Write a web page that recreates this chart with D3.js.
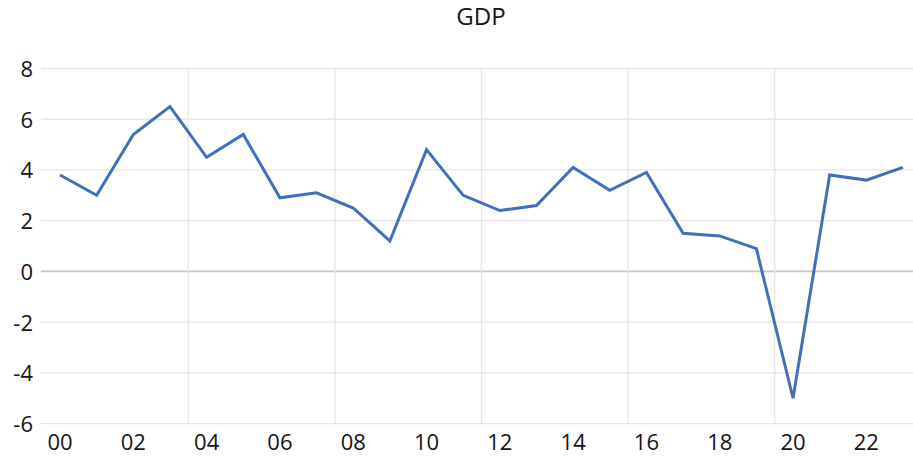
<!DOCTYPE html>
<html>
<head>
<meta charset="utf-8">
<script src="https://cdn.jsdelivr.net/npm/d3@7"></script>
<style>
  html, body { margin: 0; padding: 0; background: #fff; }
  svg { display: block; }
</style>
</head>
<body>
<svg id="chart" width="913" height="458"></svg>
<script>
// Annual GDP growth, 2000–2023 (%)
const years = d3.range(2000, 2024);
const gdp = [3.8, 3.0, 5.4, 6.5, 4.5, 5.4, 2.9, 3.1, 2.5, 1.2, 4.8, 3.0,
             2.4, 2.6, 4.1, 3.2, 3.9, 1.5, 1.4, 0.9, -5.0, 3.8, 3.6, 4.1];
const yTicks = [-6, -4, -2, 0, 2, 4, 6, 8];
const xTickYears = years.filter(y => y % 2 === 0);
const gridYears = [2004, 2008, 2012, 2016, 2020];

const svg = d3.select("#chart");
const W = 913, H = 458;
const font = "'Open Sans', 'Noto Sans', sans-serif";
const textColor = "#141414";

const x = d3.scaleBand().domain(years).range([41.7, 41.7 + 24 * 36.65]).padding(0);
const y = d3.scaleLinear().domain([-6, 8]).range([423.6, 68.5]);
const cx = d => x(d) + x.bandwidth() / 2;

// horizontal gridlines
svg.append("g").selectAll("line").data(yTicks).join("line")
  .attr("x1", 41).attr("x2", W)
  .attr("y1", d => y(d)).attr("y2", d => y(d))
  .attr("stroke", d => d === 0 ? "#c6c6c6" : "#e6e6e6")
  .attr("stroke-width", d => d === 0 ? 1.6 : 1.3);

// vertical gridlines on category boundaries
svg.append("g").selectAll("line").data(gridYears).join("line")
  .attr("x1", d => x(d)).attr("x2", d => x(d))
  .attr("y1", y(8)).attr("y2", y(-6))
  .attr("stroke", "#e6e6e6").attr("stroke-width", 1.3);

// y axis labels
const yAxis = d3.axisLeft(y).tickValues(yTicks).tickSize(0).tickPadding(0).tickFormat(d => String(d));
svg.append("g").attr("transform", "translate(33,0)").call(yAxis)
  .call(g => g.select(".domain").remove())
  .selectAll("text")
  .attr("font-family", font).attr("font-size", 22).attr("fill", textColor)
  .attr("dy", "0.36em");

// x axis labels
const xAxis = d3.axisBottom(x).tickValues(xTickYears).tickSize(0).tickPadding(0)
  .tickFormat(d => String(d % 100).padStart(2, "0"));
svg.append("g").attr("transform", "translate(0,430)").call(xAxis)
  .call(g => g.select(".domain").remove())
  .selectAll("text")
  .attr("font-family", font).attr("font-size", 22).attr("fill", textColor)
  .attr("dy", "0.9em");

// series line
const line = d3.line().x((d, i) => cx(years[i])).y(d => y(d));
svg.append("path").datum(gdp)
  .attr("d", line)
  .attr("fill", "none")
  .attr("stroke", "#4170BA")
  .attr("stroke-width", 3)
  .attr("stroke-linejoin", "miter");

// title
svg.append("text")
  .attr("x", 481).attr("y", 25)
  .attr("text-anchor", "middle")
  .attr("font-family", font).attr("font-size", 24)
  .attr("fill", textColor)
  .text("GDP");
</script>
</body>
</html>
